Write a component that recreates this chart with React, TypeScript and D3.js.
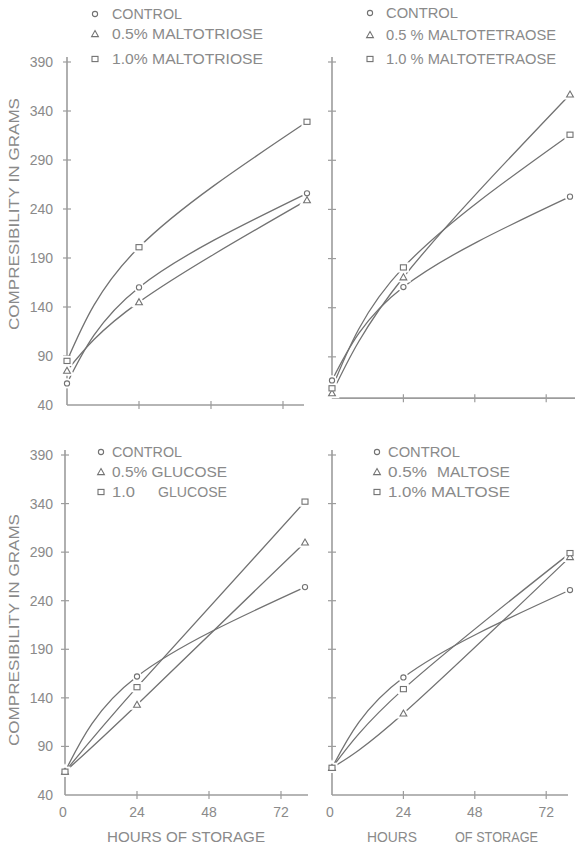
import React from 'react';
import * as d3 from 'd3';

// hours of storage at which compressibility was measured
const hours = [0, 24, 80];
const yTicks = [40, 90, 140, 190, 240, 290, 340, 390];
const xTickMarks = [24, 48, 72];
const xTickLabels = [0, 24, 48, 72];

// compressibility in grams: control, 0.5 %, 1.0 %
const triControl = [62, 160, 256];
const triHalf = [75, 145, 249];
const triOne = [85, 201, 329];

const tetraControl = [66, 161, 253];
const tetraHalf = [53, 171, 357];
const tetraOne = [58, 181, 316];

const gluControl = [64, 162, 254];
const gluHalf = [64, 133, 300];
const gluOne = [64, 151, 342];

const maltControl = [68, 161, 251];
const maltHalf = [68, 124, 285];
const maltOne = [68, 149, 289];

const markers = ['circle', 'triangle', 'square'];

const INK = '#727272';
const AXIS = '#9c9c9c';
const TEXT = '#8a8a8a';
const FONT = '"Liberation Sans", Arial, sans-serif';

type Piece = { t: string; x: number; w: number };

const panels = [
  {
    series: [triControl, triHalf, triOne],
    x0: 67, x1: 307, yTop: 62, yBot: 405, axisAt: 40, axisEnd: 304,
    yLabels: true, xLabels: false,
    markX: 95, rows: [19, 39, 64],
    legend: [
      [{ t: 'CONTROL', x: 112, w: 70 }],
      [{ t: '0.5% MALTOTRIOSE', x: 112, w: 151 }],
      [{ t: '1.0% MALTOTRIOSE', x: 112, w: 151 }],
    ] as Piece[][],
  },
  {
    series: [tetraControl, tetraHalf, tetraOne],
    x0: 332, x1: 570, yTop: 62, yBot: 406, axisAt: 48, axisEnd: 575,
    yLabels: false, xLabels: false,
    markX: 370, rows: [18, 40, 64],
    legend: [
      [{ t: 'CONTROL', x: 386, w: 72 }],
      [{ t: '0.5 % MALTOTETRAOSE', x: 386, w: 170 }],
      [{ t: '1.0 % MALTOTETRAOSE', x: 386, w: 170 }],
    ] as Piece[][],
  },
  {
    series: [gluControl, gluHalf, gluOne],
    x0: 65, x1: 305, yTop: 455, yBot: 795, axisAt: 40, axisEnd: 308,
    yLabels: true, xLabels: true,
    markX: 101, rows: [457, 477, 497],
    legend: [
      [{ t: 'CONTROL', x: 112, w: 70 }],
      [{ t: '0.5% GLUCOSE', x: 112, w: 115 }],
      [{ t: '1.0', x: 112, w: 23 }, { t: 'GLUCOSE', x: 158, w: 69 }],
    ] as Piece[][],
  },
  {
    series: [maltControl, maltHalf, maltOne],
    x0: 332, x1: 570, yTop: 455, yBot: 795, axisAt: 40, axisEnd: 568,
    yLabels: false, xLabels: true,
    markX: 377, rows: [457, 477, 497],
    legend: [
      [{ t: 'CONTROL', x: 388, w: 72 }],
      [{ t: '0.5%', x: 388, w: 39 }, { t: 'MALTOSE', x: 437, w: 73 }],
      [{ t: '1.0% MALTOSE', x: 388, w: 122 }],
    ] as Piece[][],
  },
];

const Marker = ({ kind, x, y, halo }: { kind: string; x: number; y: number; halo?: boolean }) => {
  const s = halo ? { fill: '#fff', stroke: '#fff', strokeWidth: 5 } : { fill: '#fff', stroke: INK, strokeWidth: 1.1 };
  if (kind === 'circle') return <circle cx={x} cy={y} r={2.6} {...s} />;
  if (kind === 'square') return <rect x={x - 3} y={y - 2.6} width={6} height={5.2} {...s} />;
  return <path d={`M${x},${y - 3.4}L${x + 3.4},${y + 2.6}L${x - 3.4},${y + 2.6}Z`} {...s} />;
};

const Panel = ({ p }: { p: (typeof panels)[number] }) => {
  const x = d3.scaleLinear().domain([0, 80]).range([p.x0, p.x1]);
  const y = d3.scaleLinear().domain([40, 390]).range([p.yBot, p.yTop]);
  const line = d3.line<number>()
    .x((_, i) => x(hours[i]))
    .y(d => y(d))
    .curve(d3.curveNatural);
  const baseY = y(p.axisAt);

  return (
    <g>
      {/* axes */}
      <line x1={p.x0} x2={p.x0} y1={baseY} y2={y(390) - 5} stroke={AXIS} strokeWidth={1.6} />
      <line x1={p.x0} x2={p.axisEnd} y1={baseY} y2={baseY} stroke={AXIS} strokeWidth={1.6} />
      {yTicks.filter(v => v > p.axisAt).map(v => (
        <line key={v} x1={p.x0 - 4} x2={p.x0 + 4} y1={y(v)} y2={y(v)} stroke={AXIS} strokeWidth={1.2} />
      ))}
      {xTickMarks.map(v => (
        <line key={v} x1={x(v)} x2={x(v)} y1={baseY - 4} y2={baseY + 4} stroke={AXIS} strokeWidth={1.2} />
      ))}
      {p.yLabels && yTicks.map(v => (
        <text key={v} x={53} y={y(v)} textAnchor="end" dominantBaseline="central"
          fontSize={14} fill={TEXT} fontFamily={FONT}>{v}</text>
      ))}
      {p.xLabels && xTickLabels.map(v => (
        <text key={v} x={x(v) - (v === 0 ? 2 : 0)} y={817} textAnchor="middle"
          fontSize={14} fill={TEXT} fontFamily={FONT}>{v}</text>
      ))}

      {/* curves */}
      {p.series.map((s, i) => (
        <path key={i} d={line(s) ?? ''} fill="none" stroke={INK} strokeWidth={1.3} />
      ))}
      {p.series.map((s, i) => s.map((v, j) => (
        <Marker key={`h${i}-${j}`} kind={markers[i]} x={x(hours[j])} y={y(v)} halo />
      )))}
      {p.series.map((s, i) => s.map((v, j) => (
        <Marker key={`m${i}-${j}`} kind={markers[i]} x={x(hours[j])} y={y(v)} />
      )))}

      {/* legend */}
      {p.legend.map((row, i) => (
        <g key={i}>
          <Marker kind={markers[i]} x={p.markX} y={p.rows[i] - 5} />
          {row.map(pc => (
            <text key={pc.t} x={pc.x} y={p.rows[i]} textLength={pc.w} lengthAdjust="spacingAndGlyphs"
              fontSize={14} fill={TEXT} fontFamily={FONT}>{pc.t}</text>
          ))}
        </g>
      ))}
    </g>
  );
};

export default function App() {
  return (
    <svg width={575} height={845} style={{ position: 'absolute', left: 0, top: 0, background: '#fff' }}>
      {panels.map((p, i) => <Panel key={i} p={p} />)}

      {[214, 630].map(cy => (
        <text key={cy} transform={`translate(14,${cy}) rotate(-90)`} textAnchor="middle"
          dominantBaseline="central" fontSize={14} fill={TEXT} fontFamily={FONT}
          textLength={232} lengthAdjust="spacingAndGlyphs">COMPRESIBILITY IN GRAMS</text>
      ))}

      <text x={107} y={842} fontSize={15} fill={TEXT} fontFamily={FONT}
        textLength={158} lengthAdjust="spacingAndGlyphs">HOURS OF STORAGE</text>
      <text x={367} y={842} fontSize={15} fill={TEXT} fontFamily={FONT}
        textLength={50} lengthAdjust="spacingAndGlyphs">HOURS</text>
      <text x={455} y={842} fontSize={15} fill={TEXT} fontFamily={FONT}
        textLength={83} lengthAdjust="spacingAndGlyphs">OF STORAGE</text>
    </svg>
  );
}
